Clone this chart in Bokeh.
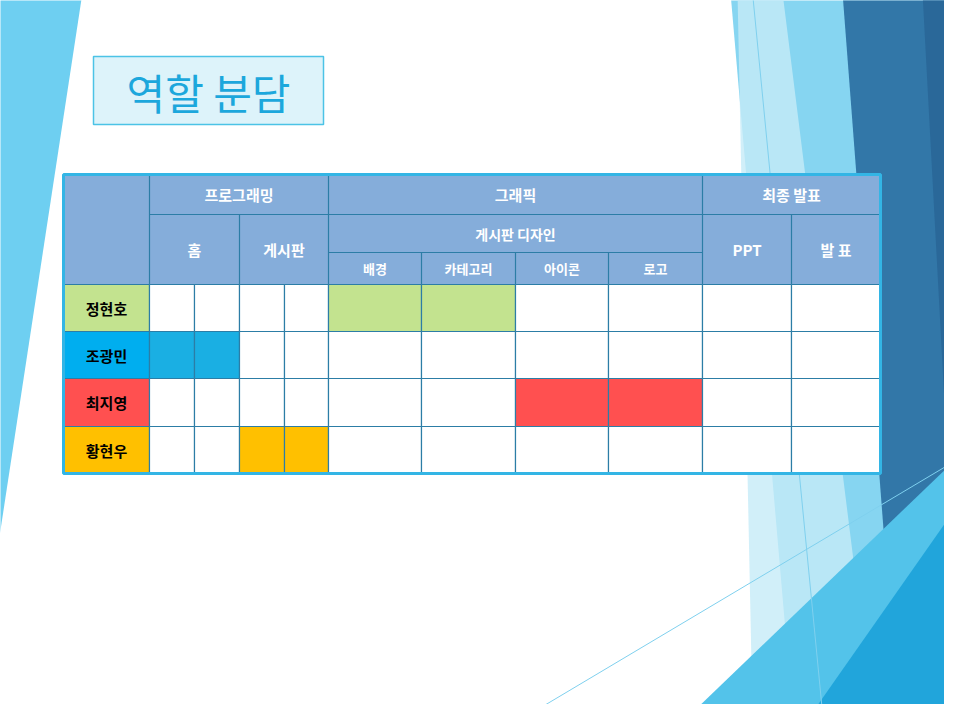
from bokeh.plotting import figure
from bokeh.models import Range1d
from bokeh.core.properties import value
from bokeh.embed import file_html
from bokeh.resources import INLINE

# ---- data ----
members = ["정현호", "조광민", "최지영", "황현우"]
member_colors = ["#C3E38F", "#00AEEF", "#FF5050", "#FFC000"]
cell_colors = ["#C3E38F", "#1AAFE3", "#FF5050", "#FFC000"]
# task columns each member fills (index into 10 task columns)
assigned = [[4, 5], [0, 1], [6, 7], [2, 3]]
groups = ["프로그래밍", "그래픽", "최종 발표"]
subgroups = ["홈", "게시판", "게시판 디자인", "PPT", "발 표"]
design_parts = ["배경", "카테고리", "아이콘", "로고"]

# table geometry (slide pixels)
col_x = [71, 157, 202, 247, 292, 336, 429, 523, 616, 710, 799, 888]
row_y = [292, 339, 386, 434, 481]
h1, h2, h3 = 182, 222, 260

FONT = value("Noto Sans CJK KR")
HEAD = "#85ADDA"
GRID = "#2C7DA6"

# plot sits at page offset 8px, so map slide pixels 1:1
p = figure(width=944, height=704, x_range=Range1d(8, 952), y_range=Range1d(712, 8),
           output_backend="svg", toolbar_location=None, min_border=0)
p.axis.visible = False
p.grid.visible = False
p.outline_line_color = None
p.background_fill_color = "white"

# ---- background decoration ----
def poly(xs, ys, c, a=1.0):
    p.patch(xs, ys, fill_color=c, fill_alpha=a, line_color=None)

poly([0, 90, 0], [0, 0, 590], "#6ECFF1")
poly([738, 860, 960, 960, 800], [0, 0, 0, 720, 720], "#86D5F1")
poly([745, 790, 880, 760], [0, 0, 720, 720], "#C6EBF8", 0.8)
poly([850, 960, 960, 905], [0, 0, 720, 720], "#3277A8")
poly([930, 960, 960], [0, 0, 560], "#2A6899")
poly([700, 960, 960], [720, 470, 720], "#53C3EA")
poly([820, 960, 960, 860], [720, 520, 720, 720], "#21A5DB")
p.line([540, 960], [720, 470], line_color="#7FD0EE", line_width=1)
p.line([760, 830], [0, 720], line_color="#7FD0EE", line_width=1)

# ---- title box ----
p.quad(left=101, right=331, top=64, bottom=132, fill_color="#DDF3FA",
       line_color="#4CC3E6", line_width=1.5)
p.text(x=[216], y=[99], text=["역할 분담"], text_font=FONT, text_font_size="42px",
       text_color="#1CA7DC", text_align="center", text_baseline="middle")

# ---- header ----
p.quad(left=col_x[0], right=col_x[-1], top=h1, bottom=row_y[0], fill_color=HEAD,
       line_color=None)
hl = dict(line_color=GRID, line_width=1.2)
p.line([col_x[1], col_x[-1]], [h2, h2], **hl)
p.line([col_x[5], col_x[9]], [h3, h3], **hl)
for i in [1, 5, 9]:
    p.line([col_x[i], col_x[i]], [h1, row_y[0]], **hl)
for i in [3, 10]:
    p.line([col_x[i], col_x[i]], [h2, row_y[0]], **hl)
for i in [6, 7, 8]:
    p.line([col_x[i], col_x[i]], [h3, row_y[0]], **hl)

def label(x, y, t, size="14px", color="white"):
    p.text(x=[x], y=[y], text=[t], text_font=FONT, text_font_size=size,
           text_font_style="bold", text_color=color, text_align="center",
           text_baseline="middle")

g_spans = [(1, 5), (5, 9), (9, 11)]
for g, (a, b) in zip(groups, g_spans):
    label((col_x[a] + col_x[b]) / 2, (h1 + h2) / 2, g, "15px")
label((col_x[1] + col_x[3]) / 2, (h2 + row_y[0]) / 2, subgroups[0], "15px")
label((col_x[3] + col_x[5]) / 2, (h2 + row_y[0]) / 2, subgroups[1], "15px")
label((col_x[5] + col_x[9]) / 2, (h2 + h3) / 2, subgroups[2], "14px")
label((col_x[9] + col_x[10]) / 2, (h2 + row_y[0]) / 2, subgroups[3], "15px")
label((col_x[10] + col_x[11]) / 2, (h2 + row_y[0]) / 2, subgroups[4], "15px")
for k, d in enumerate(design_parts):
    label((col_x[5 + k] + col_x[6 + k]) / 2, (h3 + row_y[0]) / 2, d, "13px")

# ---- body ----
for r, (m, mc, cc, cols) in enumerate(zip(members, member_colors, cell_colors, assigned)):
    top, bot = row_y[r], row_y[r + 1]
    p.quad(left=col_x[0], right=col_x[1], top=top, bottom=bot, fill_color=mc,
           line_color=GRID, line_width=1.2)
    label((col_x[0] + col_x[1]) / 2, (top + bot) / 2, m, "15px", "black")
    for c in range(10):
        fill = cc if c in cols else "white"
        p.quad(left=col_x[c + 1], right=col_x[c + 2], top=top, bottom=bot,
               fill_color=fill, line_color=GRID, line_width=1.2)

# outer border
p.quad(left=col_x[0], right=col_x[-1], top=h1, bottom=row_y[-1], fill_color=None,
       line_color="#33B5E5", line_width=3)

open("out.html", "w").write(file_html(p, INLINE))
